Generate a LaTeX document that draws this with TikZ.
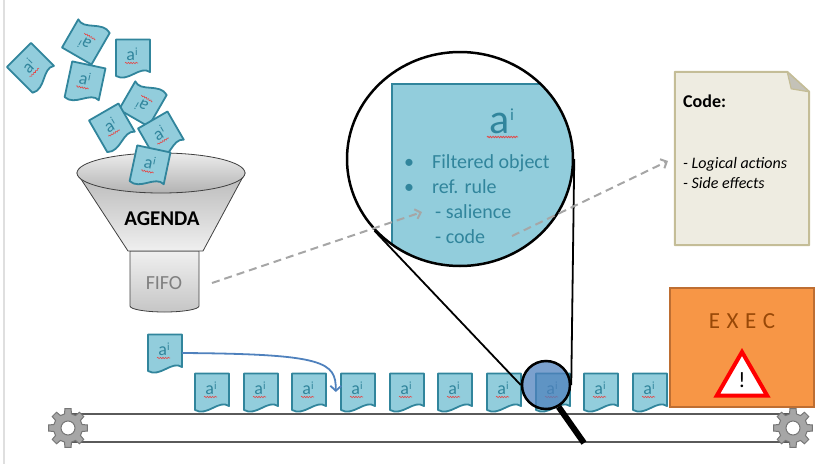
\documentclass[tikz,border=0pt]{standalone}
\usepackage{fontspec}
\setmainfont{Carlito}
\usetikzlibrary{shapes.geometric, arrows.meta, calc, decorations.pathmorphing}
\definecolor{docblue}{RGB}{146,205,220}
\definecolor{docteal}{RGB}{49,133,156}
\definecolor{lensblue}{RGB}{79,129,189}
\definecolor{dashgray}{RGB}{166,166,166}
\definecolor{paper}{RGB}{238,236,225}
\definecolor{papertan}{RGB}{196,189,151}
\definecolor{foldgray}{RGB}{196,194,184}
\definecolor{execorange}{RGB}{247,150,70}
\definecolor{execedge}{RGB}{190,110,50}
\definecolor{exectext}{RGB}{152,72,7}
\definecolor{gearfill}{RGB}{166,166,166}
\definecolor{gearedge}{RGB}{118,118,118}
\definecolor{beltgray}{RGB}{90,90,90}
\definecolor{spellred}{RGB}{228,70,70}
\tikzstyle{docshape} = [draw=docteal, fill=docblue, line width=1.8, line join=round]
\tikzstyle{doctext} = [text=docteal, inner sep=0, anchor=base]
\tikzstyle{spell} = [spellred, line width=0.6, decorate, decoration={snake, amplitude=0.7pt, segment length=2.6pt}]
\tikzstyle{flowdash} = [dashgray, line width=2, dash pattern=on 8pt off 5pt, -{Straight Barb[length=5pt,width=10pt]}]
\tikzstyle{moveline} = [lensblue, line width=1.8, -{Straight Barb[length=5pt,width=11pt]}]
\tikzstyle{beltline} = [beltgray, line width=2.5]
\tikzstyle{gearbody} = [fill=gearfill, draw=gearedge, line width=1]
\tikzstyle{zoomrect} = [draw=docteal, fill=docblue, line width=2]
\tikzstyle{zoomtext} = [text=docteal, inner sep=0, font=\fontsize{20}{24}\selectfont]
\tikzstyle{codepaper} = [draw=papertan, fill=paper, line width=2, line join=round]
\tikzstyle{codetext} = [inner sep=0, font=\fontsize{16}{18}\selectfont]
\tikzstyle{execbox} = [draw=execedge, fill=execorange, line width=1.5, inner sep=0]

% a with superscript i: size of a, size of i, lift of i
\newcommand{\asup}[3]{\fontsize{#1}{#1}\selectfont a\raisebox{#3pt}{\fontsize{#2}{#2}\selectfont i}}

\tikzset{
  pics/doc/.style={code={
    \draw[docshape] (-17,-18.5) -- (17,-18.5) -- (17,14) .. controls (7,7) and (-5,25) .. (-17,18) -- cycle;
    \node[minimum width=34, minimum height=37, inner sep=0] (-box) at (0,0) {};
    \node[doctext] (-txt) at (-1,2) {\asup{18}{11}{5}};
    \draw[spell] (-8,5) -- (5,5);
  }},
  pics/gear/.style={code={
    \filldraw[gearbody] (-14:14.5) \foreach \a in {0,45,...,315} { -- (\a-14:14.5) -- (\a-9:19.5) -- (\a+9:19.5) -- (\a+14:14.5) } -- cycle;
    \filldraw[draw=gearedge, fill=white, line width=1] (0,0) circle (7);
  }}
}

\begin{document}
\begin{tikzpicture}[x=1pt, y=-1pt]
\useasboundingbox (0,0) rectangle (815,464);
\draw[gray!25, line width=1.5] (4,0) -- (4,464);

% funnel with its queue
\shadedraw[top color=gray!12, bottom color=gray!45, draw=black!75, line width=0.8]
  (130,251) -- (130,306) arc[start angle=180, end angle=0, x radius=34.5, y radius=6] -- (199,251) -- cycle;
\shadedraw[top color=gray!55, bottom color=gray!12, draw=black!75, line width=0.8]
  (77,173) -- (128,251) -- (203,251) -- (245,173) -- cycle;
\shadedraw[top color=gray!15, bottom color=gray!60, draw=black!75, line width=0.8]
  (161,173) ellipse [x radius=84, y radius=20];
\node[font=\fontsize{21}{21}\selectfont\bfseries] (agenda) at (162,219) {AGENDA};
\node[text=gray, font=\fontsize{20}{20}\selectfont] (fifo) at (164,283) {FIFO};

% objects dropping into the agenda
\foreach \px/\py/\rot [count=\n] in {32/68/45, 86/40/150, 133/58/0, 85/83/-12, 143/102/150, 113/128/30, 162/136/30, 150/167/-12}
  \pic[rotate=\rot, transform shape] (f\n) at (\px,\py) {doc};

% conveyor belt
\coordinate (gearL) at (68,428);
\coordinate (gearR) at (793,428);
\draw[beltline] ($(gearL)+(0,-14)$) -- ($(gearR)+(0,-14)$);
\draw[beltline] ($(gearL)+(0,14)$) -- ($(gearR)+(0,14)$);
\pic at (gearL) {gear};
\pic at (gearR) {gear};

\foreach \xb [count=\n] in {212,261,309,358,407,455,504,553,601,650}
  \pic (b\n) at (\xb,392) {doc};

% object being inserted
\pic (loose) at (165,353) {doc};
\draw[moveline] (loose-box.east) .. controls (325,354) and (336,362) .. ($(b4-box.west)+(-5,0)$);

% magnified view
\begin{scope}
  \clip (460,159) ellipse [x radius=113, y radius=107];
  \fill[white] (340,40) rectangle (580,280);
  \draw[zoomrect] (392,84) rectangle (640,300);
\end{scope}
\node[ellipse, draw, line width=2.5, minimum width=226, minimum height=214, inner sep=0] (zoom) at (460,159) {};
\node[doctext] (bigai) at (502,133) {\asup{42}{17}{13}};
\draw[spell, line width=0.8] (487,137) -- (518,137);
\node[zoomtext, anchor=base] (dot1) at (409,168) {•};
\node[zoomtext, anchor=base west] (item1) at (432,168) {Filtered object};
\node[zoomtext, anchor=base] (dot2) at (409,193) {•};
\node[zoomtext, anchor=base west] (item2) at (432,193) {ref. rule};
\node[zoomtext, anchor=base west] (item3) at (435,218) {- salience};
\node[zoomtext, anchor=base west] (item4) at (435,243) {- code};

% lens on the belt
\node[circle, draw, line width=2.5, fill=lensblue, fill opacity=0.75, minimum size=48, inner sep=0] (lens) at (546,385) {};
\coordinate (grip) at (584,443);
\draw[line width=6] (lens.300) -- (grip);
\draw[line width=1.8] (zoom.220) -- (lens.west);
\draw[line width=1.8] (zoom.east) -- (lens.east);

% rule code sheet
\node[minimum width=134, minimum height=173, inner sep=0] (code) at (742,158.5) {};
\draw[codepaper] (code.south west) -- (code.north west) -- ($(code.north east)+(-22,0)$) -- ($(code.north east)+(0,20)$) -- (code.south east) -- cycle;
\filldraw[fill=foldgray, draw=papertan, line width=1.2, line join=round] ($(code.north east)+(-22,0)$) -- ($(code.north east)+(-18,17)$) -- ($(code.north east)+(0,20)$) -- cycle;
\node[codetext, anchor=base west, font=\fontsize{18}{20}\selectfont] (codehead) at (683,107) {\textbf{Code:}};
\node[codetext, anchor=base west] (act1) at (683,168) {\textit{- Logical actions}};
\node[codetext, anchor=base west] (act2) at (683,188) {\textit{- Side effects}};

% dashed links
\coordinate (fifoout) at (212,283);
\coordinate (saltip) at (422,212);
\coordinate (codeout) at (512,236);
\coordinate (codetip) at (668,161);
\draw[flowdash] (fifoout) -- (saltip);
\draw[flowdash] (codeout) -- (codetip);

% execution
\node[execbox, minimum width=144, minimum height=119] (exec) at (742,347.5) {};
\node[text=exectext, font=\fontsize{23}{23}\selectfont] (exectxt) at (742,321) {E\hspace{6.5pt}X\hspace{6.5pt}E\hspace{6.5pt}C};
\node[regular polygon, regular polygon sides=3, draw=red, line width=4, fill=white, minimum size=58, inner sep=0] (warn) at (742,381) {};
\node[font=\fontsize{22}{22}\selectfont] (bang) at (742,380) {!};
\end{tikzpicture}
\end{document}
